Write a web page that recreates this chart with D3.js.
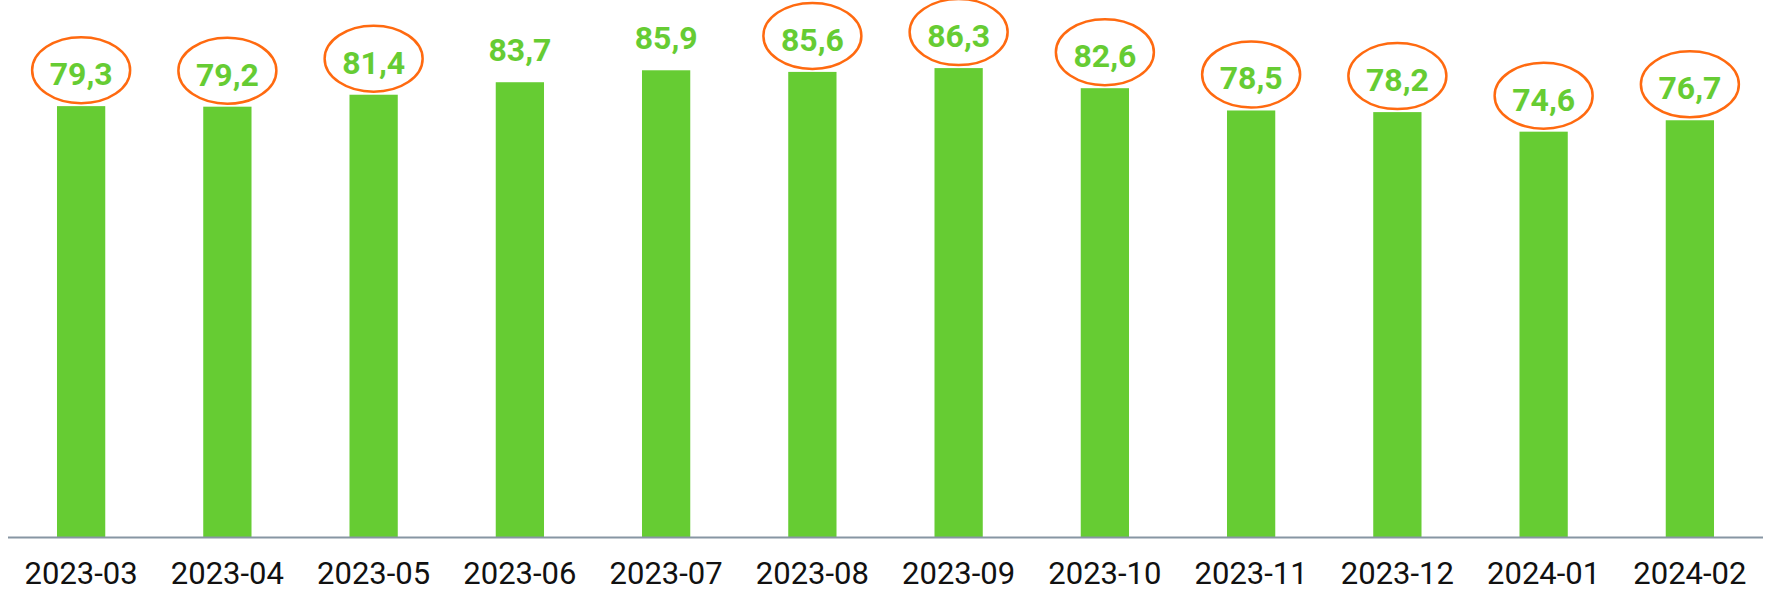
<!DOCTYPE html>
<html>
<head>
<meta charset="utf-8">
<script src="https://d3js.org/d3.v7.min.js"></script>
<style>
  html, body { margin: 0; padding: 0; background: #fff; }
  svg { display: block; }
</style>
</head>
<body>
<div id="chart"></div>
<script>
// Monthly values
const months = ['2023-03', '2023-04', '2023-05', '2023-06', '2023-07', '2023-08',
                '2023-09', '2023-10', '2023-11', '2023-12', '2024-01', '2024-02'];
const values = [79.3, 79.2, 81.4, 83.7, 85.9, 85.6, 86.3, 82.6, 78.5, 78.2, 74.6, 76.7];
// which labels are ringed by an orange ellipse
const circled = [true, true, true, false, false, true, true, true, true, true, true, true];

const width = 1769;
const height = 593;

const svg = d3.select('#chart')
  .append('svg')
  .attr('width', width)
  .attr('height', height);

const x = d3.scaleBand()
  .domain(months)
  .range([8, 1763])
  .paddingInner(0.67)
  .paddingOuter(0.335);

const y = d3.scaleLinear()
  .domain([0, 90])
  .range([537, 48]);

const rows = months.map((m, i) => ({ month: m, value: values[i], circled: circled[i] }));

// Bars
svg.selectAll('.bar')
  .data(rows)
  .enter()
  .append('rect')
  .attr('class', 'bar')
  .attr('x', d => x(d.month))
  .attr('y', d => y(d.value))
  .attr('width', x.bandwidth())
  .attr('height', d => y(0) - y(d.value))
  .style('fill', '#66cc33');

// Baseline axis
const axis = svg.append('g')
  .attr('transform', `translate(0, ${y(0)})`)
  .call(d3.axisBottom(x).tickSize(0).tickPadding(0));

axis.select('.domain')
  .attr('d', `M8,0.5H1763`)
  .style('stroke', '#8796a3')
  .style('stroke-width', 2);

axis.selectAll('text')
  .style('font-family', 'Roboto, sans-serif')
  .style('font-size', '31px')
  .style('fill', '#111')
  .attr('y', 47)
  .attr('dy', null);

// Value labels
const fmt = v => v.toFixed(1).replace('.', ',');

const labels = svg.selectAll('.label')
  .data(rows)
  .enter()
  .append('g')
  .attr('class', 'label')
  .attr('transform', d => `translate(${x(d.month) + x.bandwidth() / 2}, ${y(d.value)})`);

labels.filter(d => d.circled)
  .append('ellipse')
  .attr('cy', -36)
  .attr('rx', 49)
  .attr('ry', 33)
  .style('fill', 'none')
  .style('stroke', '#ff6a10')
  .style('stroke-width', 2.5);

labels.append('text')
  .attr('text-anchor', 'middle')
  .attr('y', -21)
  .style('font-family', 'Roboto, sans-serif')
  .style('font-weight', 'bold')
  .style('font-size', '32px')
  .style('fill', '#66cc33')
  .text(d => fmt(d.value));
</script>
</body>
</html>
